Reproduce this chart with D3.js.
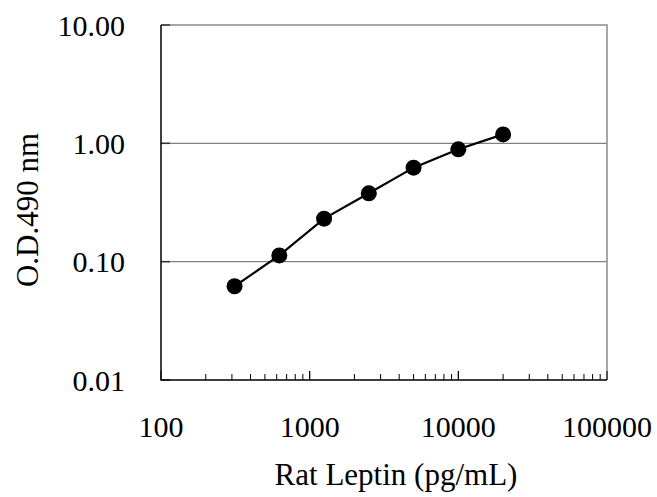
<!DOCTYPE html>
<html>
<head>
<meta charset="utf-8">
<script src="https://cdn.jsdelivr.net/npm/d3@7"></script>
<style>
  body { margin: 0; background: #fff; }
  text { font-family: "Liberation Serif", "Times New Roman", serif; fill: #000; }
</style>
</head>
<body>
<div id="chart-area"></div>
<script>
// standard curve data
const concentrations = [312.5, 625, 1250, 2500, 5000, 10000, 20000]
const odValues = [0.062, 0.113, 0.231, 0.378, 0.623, 0.89, 1.19]
const yTicks = [0.01, 0.1, 1, 10]
const xTicks = [100, 1000, 10000, 100000]

const MARGIN = { LEFT: 161, RIGHT: 50, TOP: 25, BOTTOM: 117 }
const WIDTH = 657 - MARGIN.LEFT - MARGIN.RIGHT
const HEIGHT = 497 - MARGIN.TOP - MARGIN.BOTTOM

const svg = d3.select("#chart-area").append("svg")
  .attr("width", 657)
  .attr("height", 497)

const g = svg.append("g")
  .attr("transform", `translate(${MARGIN.LEFT}, ${MARGIN.TOP})`)

const x = d3.scaleLog()
  .domain([100, 100000])
  .range([0, WIDTH])

const y = d3.scaleLog()
  .domain([0.01, 10])
  .range([HEIGHT, 0])

// gridlines
g.selectAll("line.grid")
  .data([0.1, 1])
  .enter().append("line")
  .attr("class", "grid")
  .attr("x1", 0).attr("x2", WIDTH)
  .attr("y1", d => y(d)).attr("y2", d => y(d))
  .attr("stroke", "#808080")
  .attr("stroke-width", 1.2)

// top / right border
g.append("path")
  .attr("d", `M0,0H${WIDTH}V${HEIGHT}`)
  .attr("fill", "none")
  .attr("stroke", "#8a8a8a")
  .attr("stroke-width", 1.5)

// minor + major x ticks (pointing up)
let xMinor = []
for (let dec = 100; dec < 100000; dec *= 10) {
  for (let k = 1; k <= 10; k++) xMinor.push(dec * k)
}
g.selectAll("line.xtick")
  .data(xMinor)
  .enter().append("line")
  .attr("class", "xtick")
  .attr("x1", d => x(d)).attr("x2", d => x(d))
  .attr("y1", HEIGHT)
  .attr("y2", d => xTicks.includes(d) ? HEIGHT - 9 : HEIGHT - 6)
  .attr("stroke", "#000")
  .attr("stroke-width", 1)

// y ticks (pointing in)
g.selectAll("line.ytick")
  .data(yTicks)
  .enter().append("line")
  .attr("class", "ytick")
  .attr("x1", 0).attr("x2", 9)
  .attr("y1", d => y(d)).attr("y2", d => y(d))
  .attr("stroke", "#333")
  .attr("stroke-width", 1.5)

// left / bottom axis lines
g.append("path")
  .attr("d", `M0,0V${HEIGHT}H${WIDTH}`)
  .attr("fill", "none")
  .attr("stroke", "#000")
  .attr("stroke-width", 1.5)

// tick labels
g.selectAll("text.ylab")
  .data(yTicks)
  .enter().append("text")
  .attr("class", "ylab")
  .attr("x", -36)
  .attr("y", d => y(d))
  .attr("dy", "0.35em")
  .attr("text-anchor", "end")
  .attr("font-size", "30px")
  .text(d => d.toFixed(2))

g.selectAll("text.xlab")
  .data(xTicks)
  .enter().append("text")
  .attr("class", "xlab")
  .attr("x", d => x(d))
  .attr("y", HEIGHT + 57)
  .attr("text-anchor", "middle")
  .attr("font-size", "30px")
  .text(d => d)

// axis titles
g.append("text")
  .attr("x", WIDTH / 2 + 12)
  .attr("y", HEIGHT + 105)
  .attr("text-anchor", "middle")
  .attr("font-size", "31px")
  .text("Rat Leptin (pg/mL)")

g.append("text")
  .attr("transform", "rotate(-90)")
  .attr("x", -185)
  .attr("y", -123)
  .attr("text-anchor", "middle")
  .attr("font-size", "31px")
  .text("O.D.490 nm")

// curve
const pts = concentrations.map((c, i) => [c, odValues[i]])
g.append("path")
  .datum(pts)
  .attr("fill", "none")
  .attr("stroke", "#000")
  .attr("stroke-width", 2.2)
  .attr("d", d3.line().x(d => x(d[0])).y(d => y(d[1])))

g.selectAll("circle")
  .data(pts)
  .enter().append("circle")
  .attr("cx", d => x(d[0]))
  .attr("cy", d => y(d[1]))
  .attr("r", 8)
  .attr("fill", "#000")
</script>
</body>
</html>
